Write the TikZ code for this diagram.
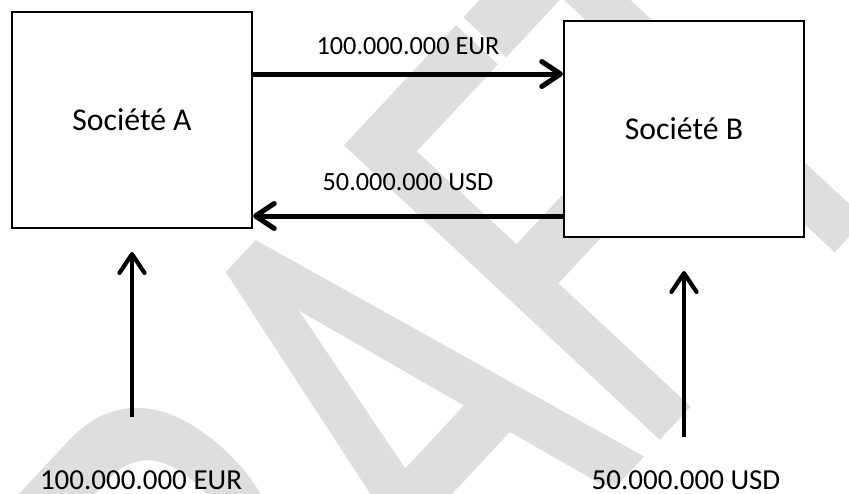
\documentclass[tikz,border=0pt]{standalone}
\usepackage{graphicx}
\usepackage{fontspec}
\setmainfont{Carlito}
\usetikzlibrary{arrows.meta,calc}

\definecolor{filigranegris}{HTML}{DEDEDE}
\font\filigranefont="Carlito:embolden=1.5" at 263pt

\tikzset{
  societe/.style={draw=black, line width=0.8pt, fill=white,
    minimum width=96pt, minimum height=86.4pt,
    font=\fontsize{12.7}{15}\selectfont},
  flux/.style={line width=2pt, -{Straight Barb[length=7.5pt,width=10pt,round]}},
  apport/.style={line width=1.7pt, -{Straight Barb[length=7.5pt,width=10pt,round]}},
  montant/.style={font=\fontsize{10.5}{12}\selectfont, inner sep=0pt},
  source/.style={font=\fontsize{11.6}{14}\selectfont, inner sep=0pt}
}

\begin{document}
\begin{tikzpicture}[x=0.4pt, y=-0.4pt]
	\useasboundingbox (0,0) rectangle (849,494);
	% filigrane
	\begin{scope}
		\clip (0,0) rectangle (849,494);
		\node[filigranegris, anchor=base west, inner sep=0pt, rotate=47] (filigrane) at (124,1007)
			{\filigranefont\scalebox{0.66}[1]{DRAFT}};
	\end{scope}
	% les deux societes
	\node[societe] (socA) at (132,120) {Société A};
	\node[societe] (socB) at (684,129) {Société B};
	% flux entre A et B
	\draw[flux] ($(socA.east)+(0,-46)$) -- ($(socB.west)+(0,-55)$)
		node[montant, midway, above=6.8pt] (eurAB) {100.000.000 EUR};
	\draw[flux] ($(socB.west)+(0,87)$) -- ($(socA.east)+(0,96)$)
		node[montant, midway, above=9.2pt] (usdBA) {50.000.000 USD};
	% apports
	\node[source] (entreeA) at (141,480) {100.000.000 EUR};
	\node[source] (entreeB) at (686,480) {50.000.000 USD};
	\coordinate (srcA) at (132,417);
	\coordinate (srcB) at (684,437);
	\draw[apport, shorten >=9.2pt] (srcA) -- (socA.south);
	\draw[apport, shorten >=13.2pt] (srcB) -- (socB.south);
\end{tikzpicture}
\end{document}
